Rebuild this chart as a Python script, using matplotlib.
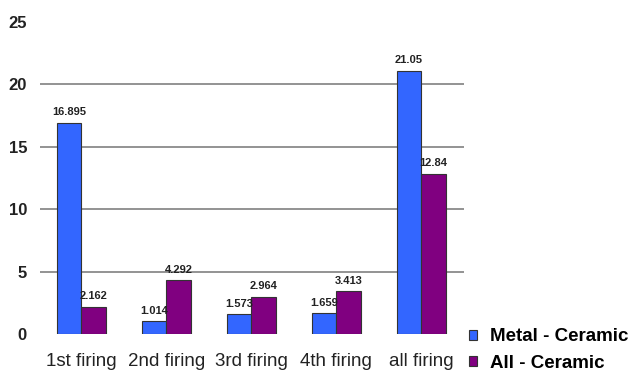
import numpy as np
import matplotlib
matplotlib.use("Agg")
import matplotlib.pyplot as plt

categories = ['1st firing', '2nd firing', '3rd firing', '4th firing', 'all firing']
metal_ceramic = [16.895, 1.014, 1.573, 1.659, 21.05]
all_ceramic = [2.162, 4.292, 2.964, 3.413, 12.84]
value_labels_metal = ['16.895', '1.014', '1.573', '1.659', '21.05']
value_labels_all = ['2.162', '4.292', '2.964', '3.413', '12.84']
yticks = [0, 5, 10, 15, 20, 25]

plt.rcParams['font.family'] = ['Liberation Sans', 'DejaVu Sans']

fig = plt.figure(figsize=(6.32, 3.73), dpi=100)
ax = fig.add_axes([0.0625, 0.1046, 0.6715, 0.8374])

x = np.arange(len(categories))
w = 0.29
b1 = ax.bar(x - w / 2, metal_ceramic, w, color='#3366ff', edgecolor='#333333',
            linewidth=0.8, label='Metal - Ceramic', zorder=3)
b2 = ax.bar(x + w / 2, all_ceramic, w, color='#800080', edgecolor='#333333',
            linewidth=0.8, label='All - Ceramic', zorder=3)

#value labels on top of the bars
for bars, labs in [(b1, value_labels_metal), (b2, value_labels_all)]:
    for bar, lab in zip(bars, labs):
        ax.annotate(lab, (bar.get_x() + bar.get_width() / 2, bar.get_height()),
                    xytext=(0, 4), textcoords='offset points', ha='center', va='bottom',
                    fontsize=8, fontweight='bold', color='#222222', zorder=4)

ax.set_xlim(-0.49, 4.5)
ax.set_ylim(0, 25)
ax.set_yticks(yticks)
ax.set_yticklabels([str(t) for t in yticks], fontsize=12, fontweight='bold', color='#222222')
ax.set_xticks(x)
ax.set_xticklabels(categories, fontsize=13.5, color='#222222')
ax.tick_params(axis='both', length=0)
ax.tick_params(axis='y', pad=9)
ax.tick_params(axis='x', pad=14)
for s in ax.spines.values():
    s.set_visible(False)

ax.yaxis.grid(True, color='#808080', linewidth=1.2, zorder=0)
gl = ax.get_ygridlines()
gl[0].set_visible(False)
gl[-1].set_visible(False)

fig.legend(handles=[b1, b2], loc='center left', bbox_to_anchor=(469 / 632, 1 - 350 / 373),
           frameon=False, prop={'size': 13.5, 'weight': 'bold'},
           handlelength=0.45, handleheight=0.45, handletextpad=0.65,
           labelspacing=0.5, borderpad=0, borderaxespad=0)

fig.savefig('out.png', dpi=100, facecolor='white')
